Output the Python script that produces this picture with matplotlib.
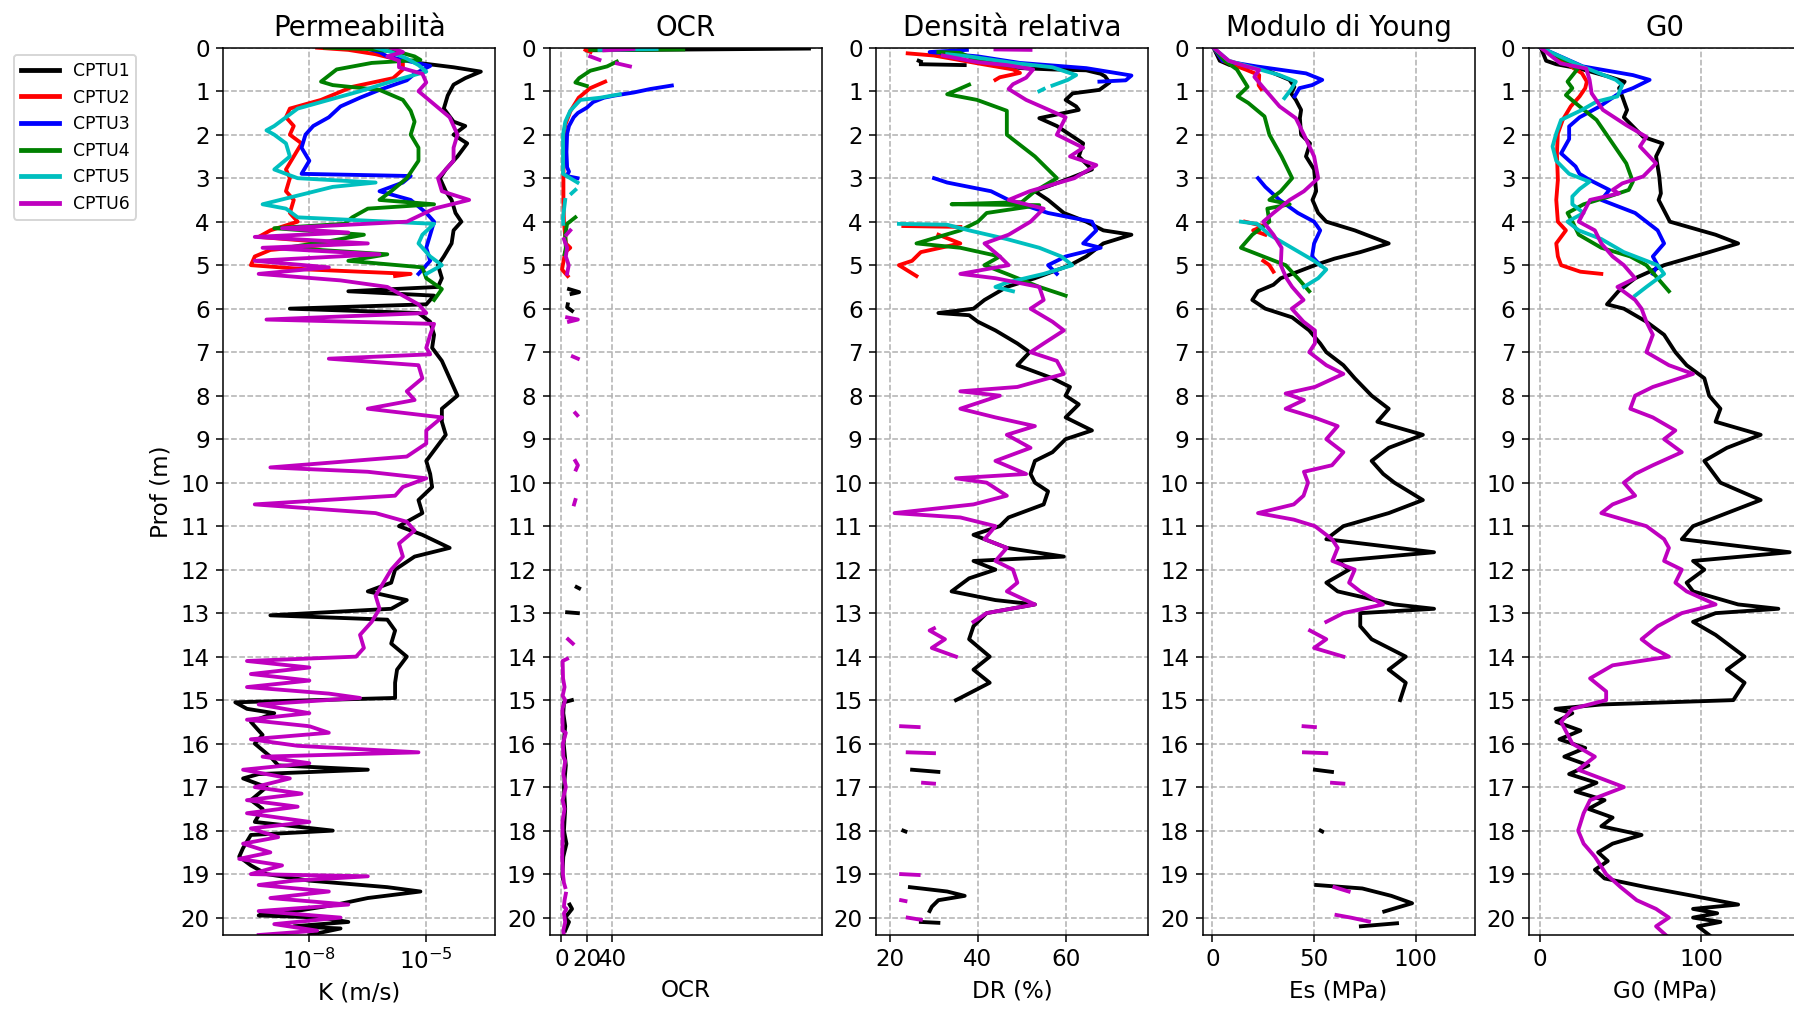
import numpy as np
import matplotlib
matplotlib.use("Agg")
import matplotlib.pyplot as plt
from matplotlib.ticker import NullLocator

nan = np.nan
GAP = (nan, nan)

SERIES = ["CPTU1", "CPTU2", "CPTU3", "CPTU4", "CPTU5", "CPTU6"]
COLORS = ["k", "r", "b", "g", "c", "m"]

# ---- Permeabilità: (depth m, log10 K m/s) ----
K_CPTU1 = [(0.35, -5.2), (0.45, -4.3), (0.55, -3.6), (0.7, -4.0), (0.85, -4.3), (1.1, -4.45),
           (1.4, -4.55), (1.7, -4.3), (1.8, -4.0), (2.0, -4.3), (2.2, -3.95), (2.5, -4.2),
           (2.8, -4.5), (3.0, -4.65), (3.3, -4.5), (3.5, -4.35), (3.8, -4.25), (4.0, -4.1),
           (4.2, -4.3), (4.5, -4.35), (4.8, -4.55), (5.0, -4.7), (5.3, -4.6), (5.5, -4.7),
           (5.6, -7.0), (5.7, -4.8), (5.9, -5.0), (6.0, -8.5), (6.1, -5.2), (6.3, -4.9),
           (6.6, -4.8), (6.9, -4.85), (7.2, -4.6), (7.5, -4.45), (7.8, -4.3), (8.0, -4.2),
           (8.3, -4.6), (8.6, -4.6), (8.9, -4.5), (9.2, -4.75), (9.5, -5.0), (9.8, -4.9),
           (10.1, -4.85), (10.4, -5.2), (10.7, -5.1), (11.0, -5.7), (11.2, -5.1), (11.5, -4.4),
           (11.7, -5.3), (12.0, -5.8), (12.3, -5.9), (12.5, -6.5), (12.7, -5.5), (12.9, -5.9),
           (13.05, -9.0), (13.15, -6.0), (13.4, -5.8), (13.7, -5.9), (14.0, -5.5), (14.3, -5.75),
           (14.6, -5.8), (14.95, -5.8), (15.05, -9.9), (15.2, -9.6), (15.3, -8.9), (15.5, -9.5),
           (15.8, -9.2), (16.0, -9.4), (16.3, -9.0), (16.5, -8.8), (16.6, -6.5), (16.7, -9.3),
           (16.8, -9.7), (17.0, -9.1), (17.3, -9.5), (17.5, -9.2), (17.8, -9.4), (18.0, -7.4),
           (18.1, -9.5), (18.4, -9.7), (18.6, -9.8), (18.8, -9.5), (19.0, -9.1), (19.15, -8.0),
           (19.3, -6.0), (19.4, -5.15), (19.55, -6.5), (19.7, -7.3), (19.9, -8.7), (19.95, -9.3),
           (20.0, -7.7), (20.1, -7.0), (20.2, -8.4), (20.25, -7.2), (20.4, -8.0)]
K_CPTU2 = [(0.0, -7.8), (0.05, -7.0), (0.15, -6.3), (0.3, -5.6), (0.5, -5.6), (0.7, -5.85),
           (0.9, -6.9), (1.2, -7.7), (1.4, -8.5), (1.6, -8.6), (1.8, -8.4), (2.0, -8.5),
           (2.2, -8.2), (2.5, -8.4), (2.8, -8.6), (3.0, -8.5), (3.3, -8.6), (3.5, -8.4),
           (3.8, -8.5), (4.0, -8.3), (4.2, -9.0), (4.35, -9.3), (4.5, -7.2), (4.65, -9.0),
           (4.8, -9.4), (5.0, -9.5), (5.1, -8.0), (5.2, -5.4), (5.25, -5.8)]
K_CPTU3 = [(0.0, -6.6), (0.1, -6.2), (0.2, -6.0), (0.3, -5.5), (0.42, -4.9), (0.6, -5.3),
           (0.75, -5.5), (0.97, -6.2), (1.15, -6.7), (1.35, -7.2), (1.6, -7.5), (1.8, -7.9),
           (2.0, -8.1), (2.3, -8.2), (2.6, -8.0), (2.9, -8.2), (2.95, -5.4), (3.1, -5.6),
           (3.3, -6.2), (3.5, -5.4), (3.8, -5.0), (4.0, -4.8), (4.3, -4.9), (4.6, -5.0),
           (4.9, -4.9), (5.2, -5.2)]
K_CPTU4 = [(0.0, -7.6), (0.03, -6.5), (0.1, -5.7), (0.2, -5.3), (0.28, -5.15), (0.35, -6.4),
           (0.5, -7.3), (0.78, -7.7), (0.86, -7.4), (0.97, -6.2), (1.2, -5.6), (1.45, -5.4),
           (1.7, -5.3), (2.0, -5.4), (2.3, -5.2), (2.6, -5.2), (3.0, -5.5), (3.3, -5.9),
           (3.5, -6.2), (3.6, -4.8), (3.7, -6.5), (3.9, -6.9), (4.05, -7.1), (4.15, -8.9),
           (4.3, -6.6), (4.45, -7.5), (4.6, -8.6), (4.75, -6.0), (4.9, -7.0), (5.05, -5.1),
           (5.3, -5.0), (5.55, -4.6), (5.8, -4.8)]
K_CPTU5 = [(0.0, -6.3), (0.1, -5.9), (0.25, -5.5), (0.4, -5.2), (0.55, -5.0), (0.75, -5.8),
           (1.0, -6.7), (1.2, -7.5), (1.4, -8.3), (1.6, -8.6), (1.8, -8.9), (1.9, -9.1),
           (2.0, -8.9), (2.2, -8.6), (2.5, -8.5), (2.8, -8.9), (3.0, -8.3), (3.1, -6.3),
           (3.2, -7.4), (3.4, -8.3), (3.6, -9.2), (3.7, -8.6), (3.9, -8.3), (4.05, -4.8),
           (4.3, -5.1), (4.5, -5.2), (4.8, -4.9), (5.0, -4.6), (5.2, -5.0)]
K_CPTU6 = [(0.0, -5.9), (0.1, -5.6), (0.2, -6.0), (0.3, -5.7), (0.45, -5.7), (0.6, -5.1),
           (0.8, -5.0), (1.0, -5.2), (1.3, -4.8), (1.6, -4.4), (2.0, -4.2), (2.3, -4.3),
           (2.6, -4.3), (3.0, -4.7), (3.3, -4.6), (3.5, -3.9), (3.7, -4.8), (4.0, -5.5),
           (4.15, -8.7), (4.25, -7.0), (4.35, -9.4), (4.5, -6.5), (4.6, -9.2), (4.75, -6.2),
           (4.9, -9.4), (5.05, -7.5), (5.2, -9.3), (5.35, -7.2), (5.5, -6.0), (5.7, -5.6),
           (5.9, -5.2), (6.1, -5.0), (6.25, -9.1), (6.35, -4.8), (6.6, -4.9), (6.9, -5.0),
           (7.05, -4.9), (7.15, -7.5), (7.3, -5.2), (7.6, -5.1), (7.9, -5.5), (8.1, -5.3),
           (8.3, -6.5), (8.5, -4.6), (8.8, -5.0), (9.1, -5.0), (9.4, -5.5), (9.65, -9.0),
           (9.75, -6.5), (9.9, -5.0), (10.1, -5.6), (10.3, -5.8), (10.5, -9.4), (10.7, -6.3),
           (10.9, -5.5), (11.1, -5.3), (11.4, -5.7), (11.7, -5.6), (12.0, -5.9), (12.3, -6.1),
           (12.6, -6.3), (12.9, -6.2), (13.2, -6.4), (13.5, -6.7), (13.8, -6.6), (14.0, -6.8),
           (14.1, -9.6), (14.25, -8.0), (14.4, -9.5), (14.55, -8.0), (14.7, -9.6), (14.85, -7.5),
           (14.95, -6.7), (15.1, -9.3), (15.3, -8.0), (15.45, -9.6), (15.6, -8.0), (15.75, -7.5),
           (15.9, -9.5), (16.05, -8.3), (16.2, -5.2), (16.3, -9.2), (16.45, -8.0), (16.6, -9.7),
           (16.8, -8.5), (17.0, -9.4), (17.15, -8.2), (17.3, -9.6), (17.45, -8.3), (17.6, -9.6),
           (17.8, -8.0), (17.95, -9.5), (18.15, -8.8), (18.3, -9.7), (18.5, -9.0), (18.65, -9.8),
           (18.8, -8.7), (19.0, -9.5), (19.05, -6.5), (19.15, -8.4), (19.25, -9.3), (19.4, -7.5),
           (19.55, -9.0), (19.7, -7.0), (19.85, -9.3), (20.0, -7.2), (20.15, -8.9), (20.3, -7.8),
           (20.4, -9.3)]

# ---- OCR: (depth m, OCR) ----
OCR_CPTU1 = [(0.02, 195), (0.06, 20), GAP, (5.55, 6), (5.62, 14), (5.66, 8), GAP,
             (5.9, 5), (5.97, 4.5), (6.05, 8.4), GAP, (12.4, 12), (12.43, 14), GAP,
             (12.98, 4.5), (13.0, 13), GAP, (15.0, 8.3), (15.05, 2), (15.3, 1.5), (15.6, 3.0),
             (16.0, 1.8), (16.5, 3.5), (17.0, 2.0), (17.5, 3.0), (18.0, 2.0), (18.3, 4.0),
             (18.6, 1.5), (19.0, 0.8), (19.1, 1.2), GAP, (19.7, 6.5), (19.8, 8.4), (20.0, 3.0),
             (20.1, 6.0), (20.3, 3.0)]
OCR_CPTU2 = [(0.05, 19), (0.1, 23), GAP, (0.78, 34.5), (0.93, 22.7), (1.15, 13.6), (1.46, 7.1),
             (1.77, 3.1), (2.0, 2.0), (2.5, 1.8), (3.0, 1.6), (3.5, 1.6), (4.0, 2.0),
             (4.5, 3.5), (4.6, 7.0), (4.7, 3.0), (5.1, 0.5), (5.25, 5)]
OCR_CPTU3 = [(0.87, 87), (0.95, 70), (1.03, 57), (1.1, 42), (1.15, 33.5), (1.25, 25),
             (1.38, 20), (1.5, 13), (1.6, 9.7), (1.8, 6), (1.98, 4.5), (2.4, 4.0),
             (2.75, 4.5), (2.85, 6), (2.95, 4), (3.0, 12.7)]
OCR_CPTU4 = [(0.04, 96), (0.05, 22.7), GAP, (0.32, 43.7), (0.43, 36), (0.53, 22.7),
             (0.7, 14), (0.8, 11), (0.88, 20), GAP, (3.9, 11), (4.05, 4.5), (4.3, 3),
             (4.6, 3.5), (4.75, 2.5)]
OCR_CPTU5 = [(0.03, 75), (0.05, 30), GAP, (1.07, 46), (1.15, 30.6), (1.2, 15), (1.45, 7),
             (1.7, 3.1), (2.0, 1.3), (2.9, 1.3), (3.1, 12.7), GAP, (3.27, 11), (3.35, 8), GAP,
             (3.5, 3), (3.9, 1.3), (4.05, 1.5)]
OCR_CPTU6 = [(0.03, 56.7), (0.06, 33.8), GAP, (0.2, 22.7), (0.28, 30), GAP, (0.36, 43.7),
             (0.43, 54), GAP, (4.2, 7), (4.3, 4), GAP, (4.4, 2), (4.6, 4.5), (4.8, 3.5),
             (5.0, 5.8), (5.2, 4.5), GAP, (6.2, 4.5), (6.25, 13), (6.3, 6), GAP, (7.1, 9),
             (7.15, 13), GAP, (8.4, 11), (8.45, 12.5), GAP, (9.5, 11), (9.6, 13), (9.7, 11.5),
             GAP, (10.4, 11), (10.5, 10), GAP, (13.6, 5.3), (13.7, 9), GAP, (14.05, 4.5),
             (14.1, 1.0), (14.5, 1.3), (14.7, 2.5), (14.9, 1.0), (15.0, 3.0), (15.2, 0.8),
             (15.7, 1.0), (15.75, 3.5), (16.0, 1.2), (16.3, 1.5), (16.4, 3), (16.7, 1.5),
             (17.0, 3.5), (17.3, 1.0), (17.5, 2.5), (17.8, 0.8), (18.2, 1.0), (18.6, 0.6),
             (19.0, 1.2), (19.2, 2.0), (19.3, 3.0), GAP, (19.45, 3.5), (19.6, 2.5), (19.75, 2.0),
             (19.8, 4.0), (19.9, 2.0), (20.1, 3.0), (20.3, 1.5), (20.4, 2.0)]

# ---- Densità relativa: (depth m, DR %) ----
DR_CPTU1 = [(0.3, 26.5), (0.32, 27), GAP, (0.38, 27), (0.4, 37), GAP, (0.45, 48), (0.47, 50),
            (0.5, 57), (0.52, 64.7), (0.6, 68), (0.66, 69), (0.8, 70), (0.97, 67.7), (1.05, 61.6),
            (1.2, 60), (1.35, 62.4), (1.43, 63), (1.62, 54), (1.8, 58), (2.0, 61), (2.2, 64),
            (2.5, 63), (2.8, 66), (3.0, 61), (3.3, 53), (3.5, 56), (3.8, 59.6), (4.0, 64.7),
            (4.2, 68.6), (4.3, 75), (4.5, 68.6), (4.8, 64.7), (5.0, 61), (5.3, 53), (5.5, 46.6),
            (5.8, 41.5), (6.0, 39), (6.1, 31), (6.15, 38), (6.3, 40), (6.5, 44), (6.8, 49),
            (7.0, 51.8), (7.3, 49), (7.6, 57), (7.8, 61), (8.0, 60), (8.2, 63), (8.5, 60),
            (8.8, 66), (9.0, 60), (9.3, 57), (9.5, 53), (9.8, 52), (10.0, 53), (10.2, 56),
            (10.5, 55), (10.8, 47), (11.0, 45), (11.2, 39), (11.5, 46.6), (11.7, 59.6),
            (11.8, 39), (12.0, 44), (12.2, 38), (12.5, 34), (12.7, 44), (12.8, 53), (13.0, 42),
            (13.3, 39), (13.6, 38), (14.0, 42.7), (14.3, 39), (14.6, 42.7), (14.95, 36),
            (15.0, 35), GAP, (16.6, 25), (16.65, 31), GAP, (18.0, 23), (18.02, 23.5), GAP,
            (19.3, 24.5), (19.4, 33), (19.5, 37), (19.6, 31), (19.75, 29.5), (19.85, 29), GAP,
            (20.1, 27), (20.12, 31)]
DR_CPTU2 = [(0.13, 24), (0.18, 30), (0.26, 34.5), (0.36, 40), (0.5, 48), (0.58, 49.6),
            (0.68, 45), (0.74, 44), GAP, (4.1, 23), (4.12, 36), GAP, (4.3, 31), (4.5, 36),
            (4.7, 27), (4.9, 25), (5.0, 22), (5.25, 26)]
DR_CPTU3 = [(0.05, 37.5), (0.1, 29), (0.2, 40), (0.35, 49.6), (0.47, 64.7), (0.64, 75),
            (0.75, 73.7), (0.78, 67.7), GAP, (3.0, 30), (3.1, 33), (3.3, 43), (3.5, 47),
            (3.8, 56), (4.0, 66), (4.2, 67), (4.5, 64), (4.6, 68), (4.8, 60), (5.0, 56),
            (5.2, 58)]
DR_CPTU4 = [(0.1, 31), (0.12, 36), (0.3, 40), (0.45, 49.6), GAP, (0.85, 38), (1.07, 33),
            (1.2, 39.8), (1.45, 46.6), (2.0, 46.6), (2.5, 53), (3.0, 58), (3.3, 53),
            (3.55, 50), (3.6, 34), (3.62, 54), (3.8, 42), (4.0, 40), (4.2, 36), (4.5, 26),
            (4.6, 36), (4.8, 45), (5.0, 41.5), (5.2, 46.6), (5.5, 54), (5.7, 60)]
DR_CPTU5 = [(0.15, 33), (0.2, 38), (0.35, 48), (0.45, 57), (0.63, 62.4), (0.74, 60.5),
            (0.87, 57), GAP, (0.95, 55), (1.0, 54), GAP, (4.05, 22), (4.07, 33), (4.2, 38),
            (4.4, 46.6), (4.6, 54), (4.8, 59), (5.0, 61.5), (5.2, 55), (5.4, 46.6), (5.5, 44),
            (5.6, 48)]
DR_CPTU6 = [(0.04, 44), (0.05, 52), GAP, (0.18, 32), (0.33, 39.8), (0.4, 46.6), (0.5, 52.6),
            (0.69, 51), (0.84, 48), (0.95, 47), (1.2, 51), (1.6, 60), (2.0, 58), (2.3, 64),
            (2.5, 61), (2.7, 67), (3.0, 62), (3.3, 51.8), (3.5, 47), (3.7, 55), (4.0, 52),
            (4.3, 47), (4.5, 41.5), (4.8, 45), (5.0, 47), (5.2, 36), (5.3, 44), (5.5, 54),
            (5.8, 55), (6.0, 52), (6.3, 57), (6.5, 59.6), (6.8, 55), (7.0, 52), (7.2, 58),
            (7.5, 59.6), (7.8, 49), (7.9, 36), (8.0, 45), (8.3, 36), (8.5, 44), (8.7, 53),
            (8.9, 46.6), (9.2, 52), (9.5, 44), (9.8, 51), (9.9, 35), (10.0, 42), (10.3, 46.6),
            (10.5, 39), (10.7, 21), (10.8, 36), (11.0, 44), (11.3, 41.5), (11.5, 46.6),
            (11.8, 44), (12.0, 48), (12.3, 49), (12.5, 46.6), (12.8, 53), (13.0, 42),
            (13.2, 39), GAP, (13.35, 30), (13.4, 29), (13.6, 32.5), (13.8, 29.5), (14.0, 35),
            GAP, (15.6, 22.5), (15.62, 26.5), GAP, (16.2, 24), (16.22, 30), GAP, (16.9, 27.5),
            (16.92, 30), GAP, (19.0, 22.5), (19.02, 26.5), GAP, (19.6, 22.5), (19.62, 23.5),
            GAP, (20.0, 24), (20.05, 27)]

# ---- Modulo di Young: (depth m, Es MPa) ----
ES_CPTU1 = [(0.0, 0.5), (0.3, 3.6), (0.4, 8.5), (0.48, 24.7), (0.74, 37.9), (0.9, 40.3),
            (1.05, 38.7), (1.2, 41), (1.43, 43.6), (1.62, 43), (2.0, 43.6), (2.2, 48),
            (2.5, 46), (2.8, 50), (3.0, 50.4), (3.3, 51), (3.5, 49.2), (3.8, 52), (4.0, 56),
            (4.2, 70), (4.5, 86.7), (4.7, 72.7), (4.85, 60), (5.0, 50.4), (5.3, 33.6),
            (5.45, 30), (5.6, 22.4), (5.8, 19.6), (6.0, 26), (6.2, 39.2), (6.5, 47.6), (6.8, 53),
            (7.0, 56), (7.3, 64.4), (7.6, 70), (8.0, 78.3), (8.3, 86.7), (8.6, 81.1),
            (8.9, 103.5), (9.2, 86.7), (9.5, 78.3), (9.8, 84), (10.0, 89.5), (10.4, 103.5),
            (10.7, 86.7), (11.0, 64.4), (11.3, 56), (11.6, 109), (11.8, 61.6), (12.0, 67.2),
            (12.3, 56), (12.5, 61.6), (12.8, 89.5), (12.9, 109), (13.0, 72.7), (13.3, 72.7),
            (13.6, 78.3), (14.0, 95.1), (14.3, 86.7), (14.6, 95.1), (15.0, 92.3), GAP,
            (16.6, 50.4), (16.65, 58.8), GAP, (18.0, 53.2), (18.02, 54), GAP, (19.25, 51),
            (19.33, 73.7), (19.5, 88), (19.67, 98.2), (19.86, 84.5), GAP, (20.13, 90.8),
            (20.2, 73)]
ES_CPTU2 = [(0.0, 0.5), (0.3, 5), (0.51, 16.7), (0.63, 23), (0.86, 22.7), (0.95, 24), GAP,
            (4.0, 16), (4.1, 25), (4.2, 20), (4.3, 26), GAP, (4.9, 25), (5.0, 28), (5.15, 30)]
ES_CPTU3 = [(0.0, 0.5), (0.3, 5), (0.43, 21.6), (0.59, 46), (0.74, 54), (0.86, 49),
            (0.93, 42.8), (1.12, 40.4), GAP, (3.0, 22.4), (3.2, 26), (3.5, 33), (3.8, 42),
            (4.0, 50), (4.2, 53), (4.5, 50), (4.8, 49), (5.0, 53)]
ES_CPTU4 = [(0.0, 0.5), (0.3, 6), (0.5, 12), (0.9, 17.3), (1.12, 12.4), (1.27, 17.6),
            (1.58, 25.6), (2.0, 28), (2.5, 34), (3.0, 39.2), (3.3, 33.6), (3.5, 28), (3.6, 38),
            (3.7, 27), (4.0, 28), (4.3, 19.6), (4.6, 14), (4.8, 25), (5.0, 36), (5.3, 42),
            (5.6, 47.6)]
ES_CPTU5 = [(0.0, 0.5), (0.3, 8), (0.63, 33), (0.78, 41), (0.97, 38.5), (1.16, 35.4), GAP,
            (4.0, 14), (4.05, 22), (4.3, 28), (4.6, 39), (4.9, 50), (5.1, 56), (5.3, 52),
            (5.5, 45)]
ES_CPTU6 = [(0.0, 0.5), (0.3, 8), (0.43, 16.7), (0.51, 23), (0.67, 20.6), (0.9, 24.7),
            (1.35, 33), (1.62, 41), (2.0, 45), (2.5, 50), (3.0, 52), (3.3, 45), (3.5, 38),
            (3.8, 30), (4.0, 25), (4.3, 30), (4.6, 34), (5.0, 33.6), (5.3, 36.4), (5.5, 39.2),
            (5.8, 44.8), (6.0, 39), (6.3, 44.8), (6.5, 50.4), (6.8, 50.4), (7.0, 47.6),
            (7.3, 56), (7.5, 64.4), (7.8, 50.4), (7.95, 36), (8.1, 45), (8.3, 36), (8.5, 50),
            (8.7, 61.6), (9.0, 56), (9.3, 64.4), (9.6, 58.8), (9.75, 45), (10.0, 47),
            (10.3, 44.8), (10.5, 40), (10.7, 22.4), (10.85, 40), (11.0, 50.4), (11.3, 58.8),
            (11.5, 61.6), (11.8, 59), (12.0, 70), (12.3, 67.2), (12.5, 72.7), (12.8, 83.9),
            (13.0, 64.4), (13.2, 56), GAP, (13.4, 48), (13.6, 56), (13.8, 50), (14.0, 64.4),
            GAP, (15.6, 44.8), (15.62, 50.4), GAP, (16.2, 45), (16.22, 56), GAP, (16.9, 58.8),
            (16.92, 64.4), GAP, (19.3, 60), (19.4, 67), GAP, (19.94, 61), (20.0, 68),
            (20.09, 77)]

# ---- G0: (depth m, G0 MPa) ----
G0_CPTU1 = [(0.0, 0.4), (0.3, 3.7), (0.38, 10), (0.48, 24.5), (0.67, 43), (0.78, 52.5),
            (0.93, 49), (1.12, 51), (1.43, 54), (1.6, 52), (2.05, 64), (2.2, 76), (2.5, 72),
            (2.96, 74), (3.35, 75), (3.5, 73.6), (4.0, 80.6), (4.3, 109), (4.5, 123), (4.7, 105),
            (5.0, 77), (5.3, 59), (5.6, 48.6), (5.9, 41.5), (6.0, 52), (6.3, 66), (6.6, 77),
            (7.0, 84), (7.3, 91), (7.6, 102), (8.0, 105), (8.3, 112), (8.6, 109), (8.9, 137),
            (9.2, 116), (9.5, 102), (10.0, 112), (10.4, 137), (10.7, 116), (11.0, 95),
            (11.3, 88), (11.6, 155), (11.8, 95), (12.0, 102), (12.3, 91), (12.5, 95),
            (12.8, 123), (12.9, 148), (13.0, 109), (13.2, 95), (13.5, 109), (14.0, 127),
            (14.3, 116), (14.6, 127), (15.0, 120), (15.1, 38), (15.2, 9.5), (15.3, 20),
            (15.5, 10), (15.7, 25), (15.9, 12), (16.1, 28), (16.3, 15), (16.5, 30), (16.7, 18),
            (16.9, 35), (17.1, 22), (17.3, 40), (17.5, 30), (17.7, 45), (17.9, 38), (18.1, 63),
            (18.3, 45), (18.5, 36), (18.7, 42), (18.9, 34), (19.1, 40), (19.3, 66), (19.5, 95),
            (19.7, 123), (19.8, 95), (19.9, 110), (20.0, 95), (20.1, 112), (20.2, 98),
            (20.4, 105)]
G0_CPTU2 = [(0.0, 0.4), (0.36, 16), (0.59, 26), (0.78, 29), (0.93, 28), (1.12, 24.5),
            (1.35, 19), (1.66, 14), (1.97, 11), (2.43, 10.4), (3.04, 11), (3.5, 10), (4.0, 11),
            (4.2, 16), (4.5, 10), (4.8, 11), (5.0, 13), (5.15, 25), (5.2, 38)]
G0_CPTU3 = [(0.0, 0.4), (0.43, 26.5), (0.63, 57.6), (0.74, 68), (0.93, 57.6), (1.05, 49),
            (1.35, 37), (1.6, 24.5), (1.81, 18), (2.1, 18), (2.43, 13), (2.73, 22), (2.9, 24.5),
            (3.04, 30.7), (3.27, 43), (3.5, 38), (3.8, 59), (4.0, 66), (4.2, 73), (4.5, 77),
            (4.8, 70), (5.0, 73), (5.2, 70)]
G0_CPTU4 = [(0.0, 0.4), (0.3, 16), (0.5, 23), (0.78, 17), (0.93, 20), (1.09, 16),
            (1.35, 24.5), (1.66, 35), (2.2, 45), (2.66, 53.5), (3.08, 57.6), (3.27, 55),
            (3.42, 43), (3.6, 27), (3.8, 17), (4.0, 20), (4.3, 24), (4.6, 38), (4.8, 56),
            (5.0, 66), (5.3, 73), (5.6, 80)]
G0_CPTU5 = [(0.0, 0.4), (0.43, 26), (0.74, 47), (0.86, 51), (1.12, 48), (1.24, 35),
            (1.43, 26), (1.66, 13), (1.97, 10), (2.27, 7.7), (2.6, 10), (2.9, 18), (3.08, 30.7),
            (3.25, 24.5), (3.42, 20), (3.6, 20), (3.8, 27), (4.0, 17), (4.2, 24), (4.4, 38),
            (4.7, 52), (5.0, 73), (5.2, 77), (5.5, 66), (5.7, 59)]
G0_CPTU6 = [(0.0, 0.4), (0.36, 12.6), (0.48, 28.6), (0.74, 30.7), (1.05, 32), (1.43, 39),
            (1.78, 53.5), (2.05, 66), (2.27, 62), (2.66, 72), (2.96, 64), (3.12, 51), (3.27, 45),
            (3.35, 49), (3.5, 31), (4.0, 24), (4.2, 34), (4.5, 38), (4.8, 45), (5.0, 52),
            (5.3, 59), (5.5, 48), (5.8, 59), (6.0, 63), (6.3, 66), (6.6, 70), (7.0, 66),
            (7.3, 80), (7.5, 95), (7.8, 70), (8.0, 59), (8.3, 56), (8.5, 70), (8.8, 84),
            (9.0, 77), (9.3, 88), (9.6, 70), (9.8, 59), (10.0, 52), (10.3, 59), (10.5, 45),
            (10.7, 38), (11.0, 66), (11.3, 77), (11.5, 80), (11.8, 77), (12.0, 88), (12.3, 84),
            (12.5, 91), (12.8, 109), (13.0, 88), (13.3, 73), (13.6, 63), (13.8, 70), (14.0, 80),
            (14.2, 45), (14.5, 31), (14.8, 41), (15.0, 41), (15.2, 20), (15.5, 13), (16.0, 20),
            (16.3, 34), (16.6, 23.6), (17.0, 52), (17.3, 31), (17.6, 27), (18.0, 23.6),
            (18.3, 27), (18.6, 34), (19.0, 41), (19.3, 50), (19.6, 60), (19.8, 72), (20.0, 80),
            (20.2, 72), (20.4, 78)]

PANELS = [
    ("Permeabilità", "K (m/s)", [K_CPTU1, K_CPTU2, K_CPTU3, K_CPTU4, K_CPTU5, K_CPTU6]),
    ("OCR", "OCR", [OCR_CPTU1, OCR_CPTU2, OCR_CPTU3, OCR_CPTU4, OCR_CPTU5, OCR_CPTU6]),
    ("Densità relativa", "DR (%)", [DR_CPTU1, DR_CPTU2, DR_CPTU3, DR_CPTU4, DR_CPTU5, DR_CPTU6]),
    ("Modulo di Young", "Es (MPa)", [ES_CPTU1, ES_CPTU2, ES_CPTU3, ES_CPTU4, ES_CPTU5, ES_CPTU6]),
    ("G0", "G0 (MPa)", [G0_CPTU1, G0_CPTU2, G0_CPTU3, G0_CPTU4, G0_CPTU5, G0_CPTU6]),
]
XLIMS = [(6.2e-11, 5.9e-4), (-9.2, 205), (16.8, 78.8), (-4.9, 128.9), (-7.0, 162)]
XTICKS = [[1e-8, 1e-5], [0, 20, 40], [20, 40, 60], [0, 50, 100], [0, 100]]


def split(pairs):
    arr = np.array(pairs, dtype=float)
    return arr[:, 0], arr[:, 1]


plt.rcParams["font.size"] = 12

W, H, DPI = 1794, 1014, 138
fig = plt.figure(figsize=(W / DPI, H / DPI), dpi=DPI)

# panels laid out by hand; the last one runs off the right edge like the original
ax_w, ax_top, ax_bot = 272, 47.7, 935
axes = []
for i, (title, xlabel, series) in enumerate(PANELS):
    left = 223.3 + 326.4 * i
    ax = fig.add_axes([left / W, 1 - ax_bot / H, ax_w / W, (ax_bot - ax_top) / H])
    for name, color, pairs in zip(SERIES, COLORS, series):
        d, v = split(pairs)
        if i == 0:
            v = 10.0 ** v
        ax.plot(v, d, color=color, lw=2, label=name)
    if i == 0:
        ax.set_xscale("log")
        ax.xaxis.set_minor_locator(NullLocator())
        ax.set_ylabel("Prof (m)")
    ax.set_xticks(XTICKS[i])
    ax.set_xlim(*XLIMS[i])
    ax.set_ylim(20.4, 0)
    ax.set_yticks(range(0, 21))
    ax.set_title(title)
    ax.set_xlabel(xlabel)
    ax.grid(True, linestyle="--", color="#b0b0b0", lw=0.8)
    axes.append(ax)

handles, labels = axes[0].get_legend_handles_labels()
leg = fig.legend(handles, labels, loc="upper left", bbox_to_anchor=(14 / W, 1 - 55 / H),
                 fontsize=9, handlelength=2.2, borderaxespad=0)
for line in leg.get_lines():
    line.set_linewidth(2.5)

fig.savefig("out.png", dpi=DPI)
